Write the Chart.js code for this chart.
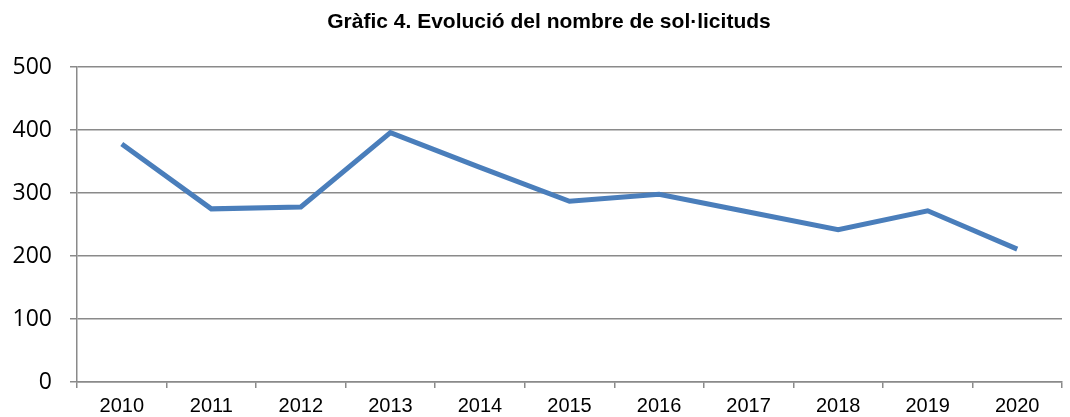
<!DOCTYPE html>
<html>
<head>
    <meta charset="utf-8">
    <title>Evolució del nombre de sol·licituds</title>
    <script src="https://cdn.jsdelivr.net/npm/chart.js"></script>
    <style>
        body { margin: 0; background: #fff; }
        #wrap { width: 1070px; height: 417px; }
    </style>
</head>
<body>

<div id="wrap"><canvas id="sol_chart" width="1070" height="417"></canvas></div>

<script>
const years = ['2010', '2011', '2012', '2013', '2014', '2015', '2016', '2017', '2018', '2019', '2020'];
const requests = [378, 275, 278, 396, 341, 287, 298, 270, 242, 272, 211];
const yTicks = [0, 100, 200, 300, 400, 500];

const gridGray = '#8a8a8a';

// nudge the title a little to the right of the canvas centre
const titleShift = {
    id: 'titleShift',
    afterLayout(chart) {
        if (chart.titleBlock) {
            chart.titleBlock.left += 36;
            chart.titleBlock.right += 0;
        }
    }
};

document.addEventListener("DOMContentLoaded", function() {
    const ctx = document.getElementById('sol_chart').getContext('2d');

    new Chart(ctx, {
        type: 'line',
        data: {
            labels: years,
            datasets: [{
                label: 'Sol·licituds',
                data: requests,
                borderColor: '#4a7ebb',
                backgroundColor: '#4a7ebb',
                borderWidth: 5,
                pointRadius: 0,
                tension: 0,
                fill: false
            }]
        },
        options: {
            responsive: false,
            animation: false,
            layout: {
                padding: { left: 0, right: 8, top: 0, bottom: 0 }
            },
            scales: {
                x: {
                    offset: true,
                    grid: {
                        offset: true,
                        drawOnChartArea: false,
                        color: gridGray,
                        lineWidth: 1.5,
                        tickLength: 6
                    },
                    border: { color: gridGray, width: 1.5 },
                    ticks: {
                        color: '#000',
                        padding: 6,
                        font: { family: 'Liberation Sans', size: 20 },
                        maxRotation: 0
                    },
                    afterFit: function(scale) { scale.height = 35; }
                },
                y: {
                    min: 0,
                    max: 500,
                    afterBuildTicks: function(scale) {
                        scale.ticks = yTicks.map(v => ({ value: v }));
                    },
                    grid: {
                        color: gridGray,
                        lineWidth: 1.5,
                        tickLength: 7
                    },
                    border: { color: gridGray, width: 1.5 },
                    ticks: {
                        color: '#000',
                        padding: 18,
                        font: { family: 'Open Sans', size: 23 }
                    },
                    afterFit: function(scale) { scale.width = 77; }
                }
            },
            plugins: {
                legend: { display: false },
                tooltip: { enabled: false },
                title: {
                    display: true,
                    text: 'Gràfic 4. Evolució del nombre de sol·licituds',
                    color: '#000',
                    font: { family: 'Liberation Sans', size: 21, weight: 'bold' },
                    padding: { top: 10, bottom: 32 }
                }
            }
        },
        plugins: [titleShift]
    });
});
</script>

</body>
</html>
